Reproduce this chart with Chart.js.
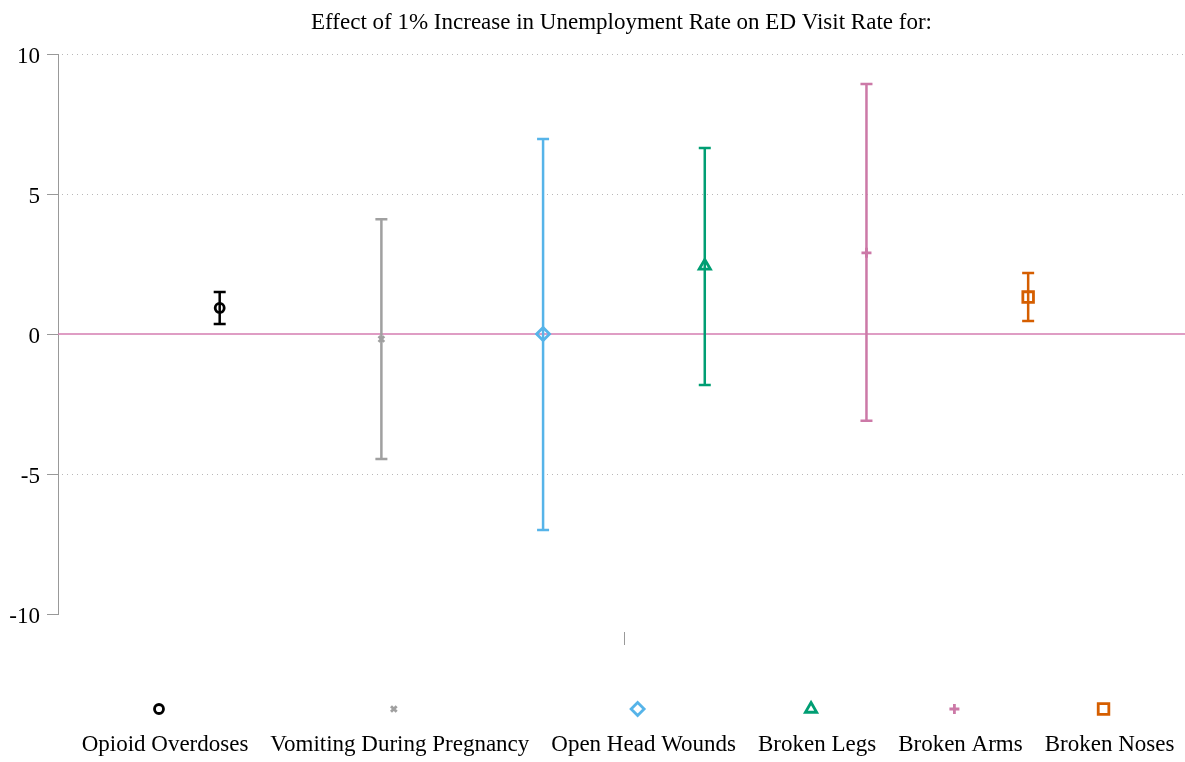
<!DOCTYPE html>
<html>
<head>
<meta charset="utf-8">
<script src="https://cdn.jsdelivr.net/npm/chart.js@4"></script>
<style>
  body { margin: 0; background: #fff; overflow: hidden; }
</style>
</head>
<body>
<canvas id="effectChart" width="1185" height="762"></canvas>
<script>
// data
const categories = ['Opioid Overdoses', 'Vomiting During Pregnancy', 'Open Head Wounds', 'Broken Legs', 'Broken Arms', 'Broken Noses'];
const estimates = [0.93, -0.18, 0.0, 2.43, 2.9, 1.32];
const lowerCI = [0.36, -4.46, -7.0, -1.82, -3.1, 0.46];
const upperCI = [1.5, 4.1, 6.96, 6.64, 8.93, 2.18];
const yTicks = [-10, -5, 0, 5, 10];
const titleText = 'Effect of 1% Increase in Unemployment Rate on ED Visit Rate for:';

// look of each series
const colors = ['#000000', '#a0a0a0', '#56B4E9', '#009E73', '#CC79A7', '#D55E00'];
const styles = ['circle', 'crossRot', 'rectRot', 'triangle', 'cross', 'rect'];
const radii = [4.5, 4, 6.5, 6.5, 5, 7.5];

const FONT = "'Liberation Serif', 'Times New Roman', serif";

const datasets = categories.map((name, i) => ({
  label: name,
  data: [{ x: i + 1, y: estimates[i] }],
  pointStyle: styles[i],
  radius: radii[i],
  borderColor: colors[i],
  backgroundColor: 'rgba(0,0,0,0)',
  borderWidth: 2.8,
  hoverRadius: radii[i]
}));

// grid, zero line, error bars, title, legend
const extras = {
  id: 'extras',
  beforeDatasetsDraw(chart) {
    const { ctx, chartArea, scales } = chart;
    const y = scales.y, x = scales.x;
    ctx.save();
    // dotted grid lines
    ctx.strokeStyle = '#b8b8b8';
    ctx.lineWidth = 1;
    ctx.setLineDash([1, 4]);
    yTicks.forEach(v => {
      if (v === 0 || v === -10) return;
      const py = Math.round(y.getPixelForValue(v)) + 0.5;
      ctx.beginPath();
      ctx.moveTo(chartArea.left + 4, py);
      ctx.lineTo(chartArea.right, py);
      ctx.stroke();
    });
    ctx.setLineDash([]);
    // zero line
    const zy = y.getPixelForValue(0);
    ctx.strokeStyle = '#d47cb0';
    ctx.lineWidth = 1.5;
    ctx.beginPath();
    ctx.moveTo(chartArea.left, zy);
    ctx.lineTo(chartArea.right, zy);
    ctx.stroke();
    // error bars
    ctx.lineWidth = 2.5;
    categories.forEach((name, i) => {
      const px = x.getPixelForValue(i + 1);
      const top = y.getPixelForValue(upperCI[i]);
      const bot = y.getPixelForValue(lowerCI[i]);
      ctx.strokeStyle = colors[i];
      ctx.beginPath();
      ctx.moveTo(px, top);
      ctx.lineTo(px, bot);
      ctx.moveTo(px - 6, top);
      ctx.lineTo(px + 6, top);
      ctx.moveTo(px - 6, bot);
      ctx.lineTo(px + 6, bot);
      ctx.stroke();
    });
    ctx.restore();
  },
  afterDraw(chart) {
    const { ctx, chartArea, scales } = chart;
    ctx.save();
    // title
    ctx.fillStyle = '#000';
    ctx.font = '23px ' + FONT;
    ctx.textAlign = 'center';
    ctx.textBaseline = 'middle';
    ctx.fillText(titleText, (chartArea.left + chartArea.right) / 2, 23);
    // lone x tick
    const tx = Math.round(scales.x.getPixelForValue(3.5)) + 0.5;
    ctx.strokeStyle = '#999';
    ctx.lineWidth = 1;
    ctx.beginPath();
    ctx.moveTo(tx, 632);
    ctx.lineTo(tx, 645);
    ctx.stroke();
    // legend: marker above label
    const widths = categories.map(c => ctx.measureText(c).width);
    const gap = 22;
    const total = widths.reduce((a, b) => a + b, 0) + gap * (categories.length - 1);
    let lx = 628 - total / 2;
    categories.forEach((name, i) => {
      const cx = lx + widths[i] / 2;
      ctx.fillStyle = '#000';
      ctx.fillText(name, cx, 745);
      ctx.fillStyle = 'rgba(0,0,0,0)';
      ctx.strokeStyle = colors[i];
      ctx.lineWidth = 2.8;
      Chart.helpers.drawPoint(ctx, { pointStyle: styles[i], radius: radii[i], rotation: 0, borderWidth: 2.8 }, cx - 6, 709);
      lx += widths[i] + gap;
    });
    ctx.restore();
  }
};

const ctx = document.getElementById('effectChart').getContext('2d');
const effectChart = new Chart(ctx, {
  type: 'scatter',
  data: { datasets },
  plugins: [extras],
  options: {
    responsive: false,
    animation: false,
    layout: { autoPadding: false, padding: { top: 54, bottom: 148, left: 0, right: 0 } },
    plugins: {
      legend: { display: false },
      title: { display: false },
      tooltip: { enabled: false }
    },
    events: [],
    scales: {
      x: {
        type: 'linear',
        display: false,
        min: 0,
        max: 6.97
      },
      y: {
        min: -10,
        max: 10,
        afterFit(scale) { scale.width = 58; },
        afterBuildTicks(scale) { scale.ticks = yTicks.map(v => ({ value: v })); },
        border: { display: true, color: '#999', width: 1 },
        grid: { drawOnChartArea: false, drawTicks: true, tickLength: 11, color: '#999' },
        ticks: {
          color: '#000',
          padding: 7,
          labelOffset: 3,
          font: { family: FONT, size: 23 },
          callback: v => String(v)
        }
      }
    }
  }
});
</script>
</body>
</html>
